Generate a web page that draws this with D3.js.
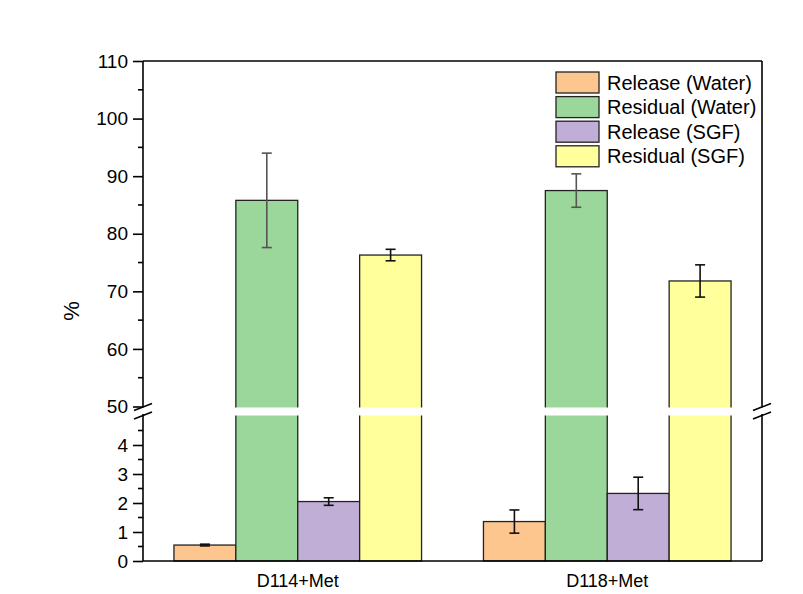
<!DOCTYPE html>
<html>
<head>
<meta charset="utf-8">
<script src="https://cdn.jsdelivr.net/npm/d3@7"></script>
<style>
  body { margin: 0; background: #fff; }
  text { font-family: Arial, "Liberation Sans", sans-serif; fill: #000; }
</style>
</head>
<body>
<svg width="803" height="594"></svg>
<script>
// data
const samples = ['D114+Met', 'D118+Met'];
const seriesNames = ['Release (Water)', 'Residual (Water)', 'Release (SGF)', 'Residual (SGF)'];
const seriesColors = ['#fdc68f', '#9bd69b', '#c1aed7', '#ffff9c'];
const means = [
  [0.55, 85.8, 2.05, 76.3],   // D114+Met
  [1.36, 87.5, 2.33, 71.8]    // D118+Met
];
const errors = [
  [0.03, 8.2, 0.13, 1.0],
  [0.40, 2.9, 0.56, 2.8]
];
const lowTicks = [0, 1, 2, 3, 4];
const lowMinor = [0.5, 1.5, 2.5, 3.5, 4.5];
const highTicks = [50, 60, 70, 80, 90, 100, 110];
const highMinor = [55, 65, 75, 85, 95, 105];

const svg = d3.select('svg');
const pLeft = 143, pRight = 762, pTop = 61, pBottom = 561;
const breakTop = 406.5, breakBottom = 416;

// two pieces of the broken y axis
const yLow = d3.scaleLinear().domain([0, 5]).range([pBottom, breakBottom]);
const yHigh = d3.scaleLinear().domain([50, 110]).range([breakTop, pTop]);
const y = v => (v <= 5 ? yLow(v) : yHigh(v));

const x0 = d3.scaleBand().domain(samples).range([pLeft, pRight]).paddingInner(0.2).paddingOuter(0.1);
const x1 = d3.scaleBand().domain(seriesNames).range([0, x0.bandwidth()]);

const cells = (d, i) => seriesNames.map((s, j) => ({ s: s, j: j, v: means[i][j], e: errors[i][j] }));

// bars
const groups = svg.selectAll('.grp')
  .data(samples)
  .enter()
  .append('g')
  .attr('transform', d => `translate(${x0(d)},0)`);

groups.selectAll('rect')
  .data(cells)
  .enter()
  .append('rect')
  .attr('x', d => x1(d.s))
  .attr('width', x1.bandwidth())
  .attr('y', d => y(d.v))
  .attr('height', d => pBottom - y(d.v))
  .attr('fill', d => seriesColors[d.j])
  .attr('stroke', '#222')
  .attr('stroke-width', 1.3);

// white gap where the axis is broken
svg.append('rect')
  .attr('x', pLeft + 2)
  .attr('y', breakTop + 1)
  .attr('width', pRight - pLeft - 4)
  .attr('height', breakBottom - breakTop - 1.5)
  .attr('fill', '#fff');

// error bars
const eb = groups.selectAll('.err')
  .data(cells)
  .enter()
  .append('g')
  .attr('stroke', d => (d.j === 1 ? '#555' : '#111'))
  .attr('stroke-width', 1.6);
eb.append('line')
  .attr('x1', d => x1(d.s) + x1.bandwidth() / 2)
  .attr('x2', d => x1(d.s) + x1.bandwidth() / 2)
  .attr('y1', d => y(d.v - d.e))
  .attr('y2', d => y(d.v + d.e));
eb.selectAll('.cap')
  .data(d => [d.v - d.e, d.v + d.e].map(t => ({ t: t, cx: x1(d.s) + x1.bandwidth() / 2 })))
  .enter()
  .append('line')
  .attr('x1', d => d.cx - 5)
  .attr('x2', d => d.cx + 5)
  .attr('y1', d => y(d.t))
  .attr('y2', d => y(d.t));

// frame
const frame = svg.append('g').attr('stroke', '#000').attr('stroke-width', 1.6).attr('fill', 'none');
frame.append('line').attr('x1', pLeft).attr('x2', pRight).attr('y1', pTop).attr('y2', pTop);
frame.append('line').attr('x1', pLeft).attr('x2', pRight).attr('y1', pBottom).attr('y2', pBottom);
[pLeft, pRight].forEach(xx => {
  frame.append('line').attr('x1', xx).attr('x2', xx).attr('y1', pTop).attr('y2', breakTop + 1);
  frame.append('line').attr('x1', xx).attr('x2', xx).attr('y1', breakBottom - 2).attr('y2', pBottom);
  // break marks
  frame.append('line').attr('x1', xx - 9).attr('x2', xx + 9).attr('y1', breakTop + 4).attr('y2', breakTop - 3);
  frame.append('line').attr('x1', xx - 9).attr('x2', xx + 9).attr('y1', breakBottom + 3).attr('y2', breakBottom - 4);
});

// left axis ticks
const axisLow = d3.axisLeft(yLow).tickValues(lowTicks).tickFormat(d3.format('d')).tickSize(10).tickPadding(5);
const axisHigh = d3.axisLeft(yHigh).tickValues(highTicks).tickFormat(d3.format('d')).tickSize(10).tickPadding(5);
[axisLow, axisHigh].forEach(ax => {
  const g = svg.append('g').attr('transform', `translate(${pLeft},0)`).call(ax);
  g.attr('font-size', null).attr('font-family', null);
  g.select('.domain').remove();
  g.selectAll('line').attr('stroke', '#000').attr('stroke-width', 1.6);
  g.selectAll('text').style('font-size', '19px');
});
const minor = svg.append('g').attr('stroke', '#000').attr('stroke-width', 1.6);
lowMinor.forEach(v => minor.append('line').attr('x1', pLeft - 5).attr('x2', pLeft).attr('y1', yLow(v)).attr('y2', yLow(v)));
highMinor.forEach(v => minor.append('line').attr('x1', pLeft - 5).attr('x2', pLeft).attr('y1', yHigh(v)).attr('y2', yHigh(v)));

// x labels
svg.selectAll('.xl')
  .data(samples)
  .enter()
  .append('text')
  .attr('x', d => x0(d) + x0.bandwidth() / 2)
  .attr('y', 587)
  .attr('text-anchor', 'middle')
  .style('font-size', '18px')
  .text(d => d);

// y title
svg.append('text')
  .attr('transform', 'translate(79,311) rotate(-90)')
  .attr('text-anchor', 'middle')
  .style('font-size', '22px')
  .text('%');

// legend
const lg = svg.append('g').attr('transform', 'translate(556,72)');
seriesNames.forEach((s, i) => {
  lg.append('rect')
    .attr('x', 0).attr('y', i * 24.6)
    .attr('width', 43).attr('height', 21)
    .attr('fill', seriesColors[i])
    .attr('stroke', '#222').attr('stroke-width', 1.3);
  lg.append('text')
    .attr('x', 51).attr('y', i * 24.6 + 17.5)
    .style('font-size', '20px')
    .text(s);
});
</script>
</body>
</html>
